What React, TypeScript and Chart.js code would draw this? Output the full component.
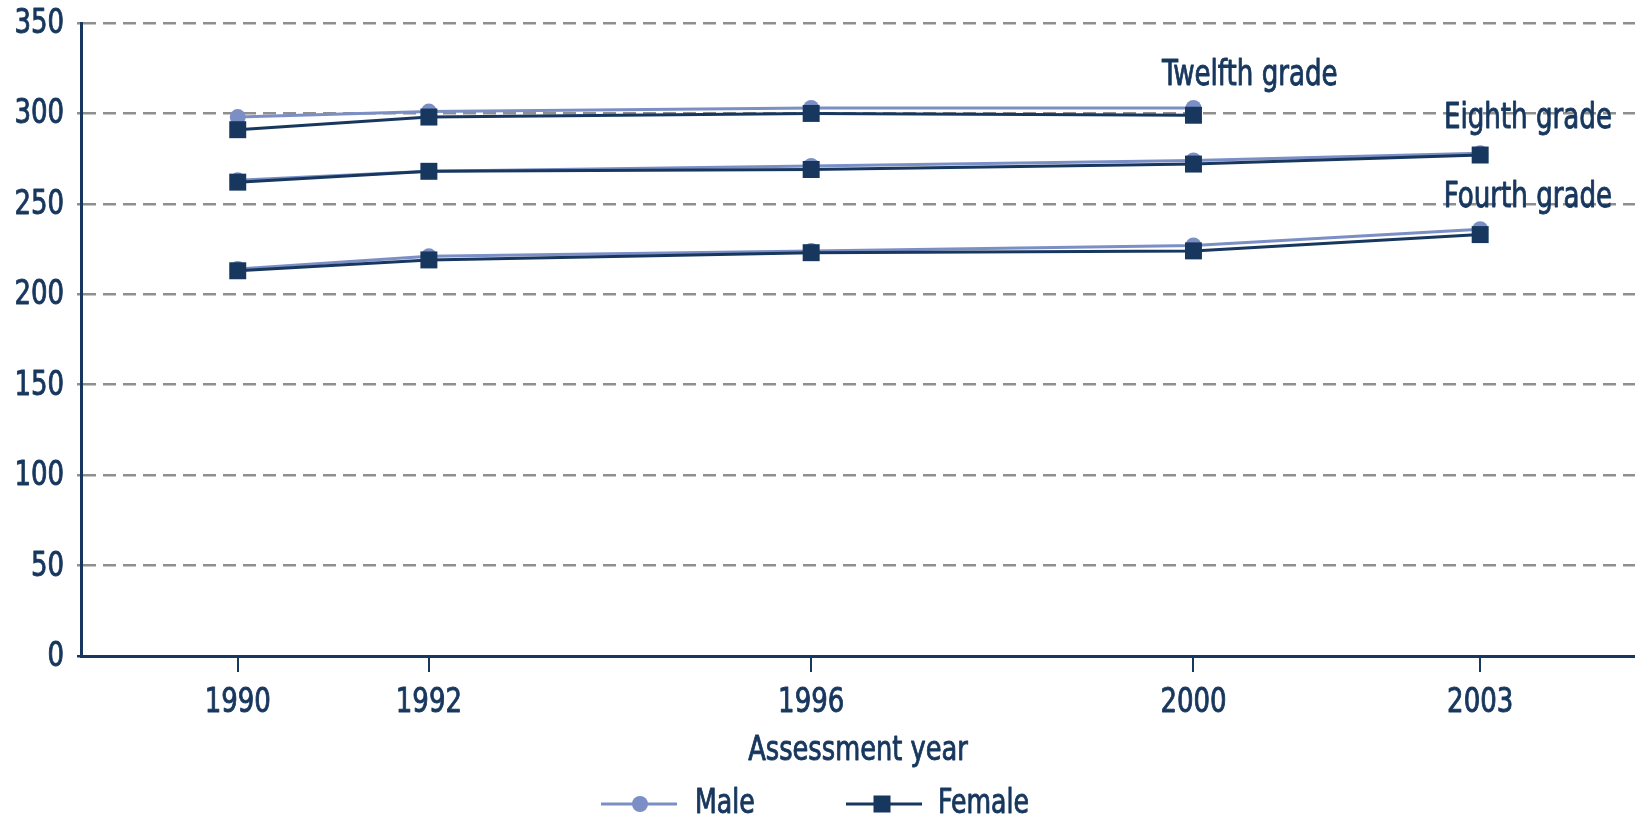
import React, { useEffect, useRef } from "react";
import { Chart, registerables } from "chart.js";

Chart.register(...registerables);

// Assessment years and average scale scores by grade and gender
const twelfthYears = [1990, 1992, 1996, 2000];
const lowerGradeYears = [1990, 1992, 1996, 2000, 2003];
const twelfthMale = [298, 301, 303, 303];
const twelfthFemale = [291, 298, 300, 299];
const eighthMale = [263, 268, 271, 274, 278];
const eighthFemale = [262, 268, 269, 272, 277];
const fourthMale = [214, 221, 224, 227, 236];
const fourthFemale = [213, 219, 223, 224, 233];

const yearTicks = [1990, 1992, 1996, 2000, 2003];
const scoreMax = 350;
const scoreStep = 50;

const NAVY = "#17375e";
const LIGHT = "#7b8fc6";
const GRID = "#8f8f8f";
const FONT = '"DejaVu Sans Condensed", "DejaVu Sans", sans-serif';

const pts = (xs: number[], ys: number[]) => xs.map((x, i) => ({ x, y: ys[i] }));

const maleStyle = {
  borderColor: LIGHT,
  backgroundColor: LIGHT,
  borderWidth: 3,
  pointStyle: "circle" as const,
  pointRadius: 8,
  pointBackgroundColor: LIGHT,
  pointBorderWidth: 0,
  order: 1,
};
const femaleStyle = {
  borderColor: NAVY,
  backgroundColor: NAVY,
  borderWidth: 3,
  pointStyle: "rect" as const,
  pointRadius: 12,
  pointBackgroundColor: NAVY,
  pointBorderWidth: 0,
  order: 0,
};

// Grade names placed beside their series, in data space (text baseline)
const gradeNotes = [
  { text: "Twelfth grade", year: 2000.59, score: 315.7 },
  { text: "Eighth grade", year: 2003.5, score: 291.9 },
  { text: "Fourth grade", year: 2003.5, score: 248.3 },
];

// narrow, tall lettering: condensed face squeezed a little further and slightly thickened
function drawText(
  ctx: CanvasRenderingContext2D,
  text: string,
  x: number,
  y: number,
  size: number,
  align: CanvasTextAlign,
  squeeze = 0.85
) {
  ctx.save();
  ctx.translate(x, y);
  ctx.scale(squeeze, 1);
  ctx.font = `${size}px ${FONT}`;
  ctx.textAlign = align;
  ctx.textBaseline = "alphabetic";
  ctx.fillStyle = NAVY;
  ctx.strokeStyle = NAVY;
  ctx.lineWidth = 0.9;
  ctx.lineJoin = "round";
  ctx.fillText(text, 0, 0);
  ctx.strokeText(text, 0, 0);
  ctx.restore();
}

const labelPlugin = {
  id: "labels",
  afterDraw(chart: any) {
    const { ctx, scales } = chart;
    const xs = scales.x;
    const ys = scales.y;
    ctx.save();

    // tick labels from the scales' own ticks
    ys.ticks.forEach((t: any) => {
      drawText(ctx, String(t.value), ys.right - 17, ys.getPixelForValue(t.value) + 10, 34, "right");
    });
    xs.ticks.forEach((t: any) => {
      drawText(ctx, String(t.value), xs.getPixelForValue(t.value), xs.top + 56, 34, "center");
    });

    // grade names
    gradeNotes.forEach((n) => {
      drawText(ctx, n.text, xs.getPixelForValue(n.year), ys.getPixelForValue(n.score), 35, "center", 0.83);
    });

    // axis title
    drawText(ctx, "Assessment year", 858, 760, 34, "center", 0.84);

    // legend
    const ly = 804;
    ctx.lineWidth = 3;
    ctx.strokeStyle = LIGHT;
    ctx.beginPath();
    ctx.moveTo(601, ly);
    ctx.lineTo(677, ly);
    ctx.stroke();
    ctx.fillStyle = LIGHT;
    ctx.beginPath();
    ctx.arc(640, ly, 8, 0, Math.PI * 2);
    ctx.fill();
    drawText(ctx, "Male", 695, 813, 33, "left", 0.85);

    ctx.strokeStyle = NAVY;
    ctx.fillStyle = NAVY;
    ctx.beginPath();
    ctx.moveTo(846, ly);
    ctx.lineTo(922, ly);
    ctx.stroke();
    ctx.fillRect(882 - 8.5, ly - 8.5, 17, 17);
    drawText(ctx, "Female", 938, 813, 33, "left", 0.85);
    ctx.restore();
  },
};

export default function App() {
  const ref = useRef<HTMLCanvasElement | null>(null);

  useEffect(() => {
    if (!ref.current) return;
    const chart = new Chart(ref.current, {
      type: "line",
      data: {
        datasets: [
          { label: "Twelfth Male", data: pts(twelfthYears, twelfthMale), ...maleStyle },
          { label: "Twelfth Female", data: pts(twelfthYears, twelfthFemale), ...femaleStyle },
          { label: "Eighth Male", data: pts(lowerGradeYears, eighthMale), ...maleStyle },
          { label: "Eighth Female", data: pts(lowerGradeYears, eighthFemale), ...femaleStyle },
          { label: "Fourth Male", data: pts(lowerGradeYears, fourthMale), ...maleStyle },
          { label: "Fourth Female", data: pts(lowerGradeYears, fourthFemale), ...femaleStyle },
        ],
      },
      options: {
        animation: false,
        responsive: true,
        maintainAspectRatio: false,
        layout: { autoPadding: false, padding: { top: 23, right: 0, left: 0, bottom: 0 } },
        plugins: {
          legend: { display: false },
          tooltip: { enabled: false },
        },
        scales: {
          x: {
            type: "linear",
            min: 1988.36,
            max: 2004.62,
            afterBuildTicks: (scale: any) => {
              scale.ticks = yearTicks.map((v) => ({ value: v }));
            },
            afterFit: (scale: any) => {
              scale.height = 163;
              scale.paddingLeft = 0;
              scale.paddingRight = 0;
            },
            grid: {
              drawOnChartArea: false,
              drawTicks: true,
              tickLength: 16,
              color: NAVY,
              lineWidth: 2,
            },
            border: { display: true, color: NAVY, width: 3 },
            ticks: { display: false },
          },
          y: {
            min: 0,
            max: scoreMax,
            afterFit: (scale: any) => {
              scale.width = 81;
              scale.paddingTop = 0;
              scale.paddingBottom = 0;
            },
            grid: {
              color: (c: any) => (c.tick && c.tick.value === 0 ? "rgba(0,0,0,0)" : GRID),
              lineWidth: 2.5,
              tickLength: 4,
              tickColor: (c: any) => (c.tick && c.tick.value === 0 ? NAVY : GRID),
            },
            border: { display: true, color: NAVY, width: 3, dash: [13, 7] },
            ticks: { display: false, stepSize: scoreStep },
          },
        },
      },
      plugins: [labelPlugin],
    });
    return () => chart.destroy();
  }, []);

  return (
    <div
      style={{
        position: "fixed",
        left: 0,
        top: 0,
        width: 1635,
        height: 819,
        background: "#ffffff",
      }}
    >
      <canvas ref={ref} />
    </div>
  );
}
